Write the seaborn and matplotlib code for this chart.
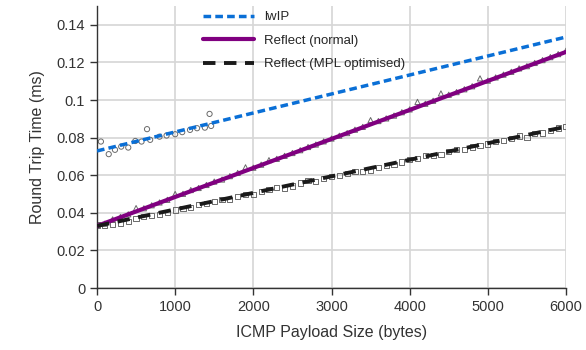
import numpy as np
import pandas as pd
import seaborn as sns
import matplotlib.pyplot as plt
from matplotlib.ticker import FuncFormatter

# payload sizes (bytes) and round trip times (ms)
lwip_x = [50, 150, 230, 310, 400, 490, 570, 640, 680, 800, 890, 1000, 1090, 1190, 1280, 1380, 1440, 1460]
lwip_y = [0.0779, 0.0712, 0.0735, 0.0752, 0.0747, 0.0782, 0.0779, 0.0845, 0.0788, 0.0805,
          0.0811, 0.0818, 0.0829, 0.0841, 0.0850, 0.0853, 0.0926, 0.0862]

reflect_x = list(range(0, 6001, 100))
reflect_y = [0.0335, 0.0342, 0.0365, 0.0378, 0.0392, 0.0425, 0.0424, 0.0440, 0.0455, 0.0469,
             0.0500, 0.0501, 0.0521, 0.0532, 0.0548, 0.0566, 0.0577, 0.0595, 0.0612, 0.0642,
             0.0640, 0.0656, 0.0680, 0.0687, 0.0703, 0.0718, 0.0733, 0.0750, 0.0763, 0.0780,
             0.0795, 0.0810, 0.0824, 0.0842, 0.0857, 0.0893, 0.0888, 0.0902, 0.0917, 0.0935,
             0.0950, 0.0990, 0.0980, 0.0996, 0.1035, 0.1028, 0.1042, 0.1057, 0.1073, 0.1115,
             0.1103, 0.1120, 0.1135, 0.1150, 0.1168, 0.1180, 0.1197, 0.1212, 0.1228, 0.1244, 0.1262]

mpl_x = list(range(0, 6001, 100))
mpl_y = [0.0335, 0.0332, 0.0338, 0.0346, 0.0354, 0.0368, 0.0379, 0.0386, 0.0389, 0.0401,
         0.0415, 0.0424, 0.0430, 0.0443, 0.0449, 0.0459, 0.0470, 0.0472, 0.0486, 0.0497,
         0.0498, 0.0512, 0.0522, 0.0535, 0.0531, 0.0543, 0.0558, 0.0571, 0.0567, 0.0583,
         0.0595, 0.0598, 0.0608, 0.0621, 0.0619, 0.0628, 0.0643, 0.0652, 0.0658, 0.0670,
         0.0684, 0.0687, 0.0703, 0.0706, 0.0711, 0.0728, 0.0735, 0.0736, 0.0750, 0.0756,
         0.0766, 0.0780, 0.0785, 0.0794, 0.0808, 0.0802, 0.0821, 0.0824, 0.0836, 0.0851, 0.0858]

# linear trend lines (intercept ms, slope ms/byte) as drawn in the chart
series_names = ['lwIP', 'Reflect (normal)', 'Reflect (MPL optimised)']
trend_intercept = [0.0729, 0.0330, 0.0330]
trend_slope = [0.0000101, 0.00001543, 0.0000088]
trend_range = [0, 6000]

sns.set_style('white')
plt.rcParams['font.family'] = ['Liberation Sans', 'DejaVu Sans']

fig = plt.figure(figsize=(5.86, 3.5), dpi=100)
ax = fig.add_axes([97/586, 1 - 288/350, (566 - 97)/586, (288 - 6)/350])

# scatter points (hollow grey markers)
mk = dict(facecolor='none', edgecolor='#6a6a6a', linewidth=0.7, s=14, zorder=2, legend=False)
sns.scatterplot(x=lwip_x, y=lwip_y, marker='o', ax=ax, **mk)
sns.scatterplot(x=reflect_x, y=reflect_y, marker='^', ax=ax, **mk)
sns.scatterplot(x=mpl_x, y=mpl_y, marker='s', ax=ax, **mk)

# trend lines
colors = ['#0a6fd6', '#800080', '#1a1a1a']
dashes = [(2.2, 1.2), None, (3.2, 2.2)]
widths = [2.5, 3.0, 2.8]
tx = np.array(trend_range)
for name, b, m, c, d, w in zip(series_names, trend_intercept, trend_slope, colors, dashes, widths):
    sns.lineplot(x=tx, y=b + m * tx, color=c, linewidth=w, label=name, ax=ax, zorder=3)
    if d is not None:
        ax.lines[-1].set_dashes(d)

ax.set_xlim(0, 6000)
ax.set_ylim(0, 0.15)
ax.set_xticks(range(0, 6001, 1000))
ax.set_yticks(np.arange(0, 0.141, 0.02))
ax.yaxis.set_major_formatter(FuncFormatter(lambda v, p: '{:g}'.format(round(v, 2))))

ax.grid(True, color='#d6d6d6', linewidth=1.2)
ax.set_axisbelow(True)
for s in ['top', 'right']:
    ax.spines[s].set_visible(False)
for s in ['left', 'bottom']:
    ax.spines[s].set_color('#333333')
    ax.spines[s].set_linewidth(1.0)
ax.tick_params(axis='both', direction='out', length=5, width=1, color='#333333',
               labelsize=10.5, labelcolor='#333333', left=True, bottom=True)

ax.set_xlabel('ICMP Payload Size (bytes)', fontsize=11.5, color='#333333', labelpad=8)
ax.set_ylabel('Round Trip Time (ms)', fontsize=11.5, color='#333333', labelpad=8)

ax.legend(loc='upper left', bbox_to_anchor=(203/586, 1 - 11/350), bbox_transform=fig.transFigure,
          frameon=False, fontsize=9.5, handlelength=3.9, handletextpad=0.7,
          labelspacing=0.85, borderpad=0, borderaxespad=0)

fig.savefig('out.png', dpi=100)
